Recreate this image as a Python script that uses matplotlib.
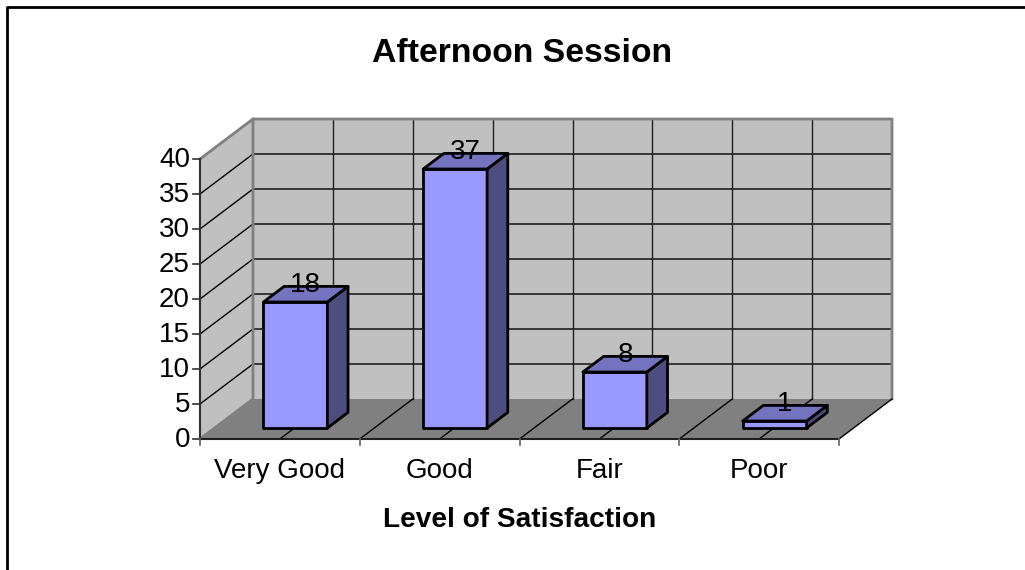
import matplotlib
matplotlib.use("Agg")
import matplotlib.pyplot as plt
from matplotlib.patches import Polygon

categories = ["Very Good", "Good", "Fair", "Poor"]
values = [18, 37, 8, 1]
y_ticks = [0, 5, 10, 15, 20, 25, 30, 35, 40]
title = "Afternoon Session"
x_title = "Level of Satisfaction"

plt.rcParams['font.family'] = ['Liberation Sans', 'DejaVu Sans']

# oblique projection of the 3d box into figure pixels
x0, y0 = 200, 439
cat_w = 159.75
y_scale = 7.0
dx, dy = 53, -40


def proj(cat, val, depth=0.0):
    return (x0 + cat * cat_w + depth * dx, y0 - val * y_scale + depth * dy)


def face(ax, pts, color, **kw):
    ax.add_patch(Polygon(pts, closed=True, facecolor=color, **kw))


fig = plt.figure(figsize=(10.25, 5.7), dpi=100)
ax = fig.add_axes([0, 0, 1, 1])
ax.set_xlim(0, 1025)
ax.set_ylim(570, 0)
ax.axis("off")

n = len(categories)
top = y_ticks[-1]

# walls and floor
face(ax, [proj(0, 0, 1), proj(n, 0, 1), proj(n, top, 1), proj(0, top, 1)], "#c0c0c0", edgecolor="none")
face(ax, [proj(0, 0), proj(0, 0, 1), proj(0, top, 1), proj(0, top)], "#c0c0c0", edgecolor="none")
face(ax, [proj(0, 0), proj(n, 0), proj(n, 0, 1), proj(0, 0, 1)], "#808080", edgecolor="none")

# gridlines
for t in y_ticks[1:-1]:
    ax.plot(*zip(proj(0, t), proj(0, t, 1), proj(n, t, 1)), color="black", lw=1, zorder=2)
for i in range(1, 2 * n):
    c = i / 2
    ax.plot(*zip(proj(c, 0, 1), proj(c, top, 1)), color="#202020", lw=1, zorder=2)
    ax.plot(*zip(proj(c, 0), proj(c, 0, 1)), color="black", lw=1, zorder=2)

# grey frame of the walls
ax.plot(*zip(proj(0, top), proj(0, top, 1), proj(n, top, 1), proj(n, 0, 1)), color="#808080", lw=2, zorder=2)
ax.plot(*zip(proj(0, 0), proj(0, 0, 1), proj(0, top, 1)), color="#808080", lw=2, zorder=2)
ax.plot(*zip(proj(n, 0), proj(n, 0, 1)), color="black", lw=1, zorder=2)

# axes lines and ticks
ax.plot(*zip(proj(0, 0), proj(0, top)), color="#303030", lw=1.5, zorder=3)
ax.plot(*zip(proj(0, 0), proj(n, 0)), color="#202020", lw=1.5, zorder=3)
for t in y_ticks:
    px, py = proj(0, t)
    ax.plot([px - 7, px], [py, py], color="#303030", lw=1.2, zorder=3)
    ax.text(px - 10, py + 1, str(t), ha="right", va="center", fontsize=20, color="black")
for i in range(n + 1):
    px, py = proj(i, 0)
    ax.plot([px, px], [py, py + 6], color="#606060", lw=1.2, zorder=3)
for i, cat in enumerate(categories):
    px, py = proj(i + 0.5, 0)
    ax.text(px, py + 32, cat, ha="center", va="center", fontsize=20, color="black")

# bars
d1, d2 = 0.275, 0.665
w1, w2 = 0.306, 0.706
edge = dict(edgecolor="black", lw=2, joinstyle="round", zorder=4)
for i, v in enumerate(values):
    l, r = i + w1, i + w2
    face(ax, [proj(l, 0, d1), proj(r, 0, d1), proj(r, v, d1), proj(l, v, d1)], "#9999ff", **edge)
    face(ax, [proj(r, 0, d1), proj(r, 0, d2), proj(r, v, d2), proj(r, v, d1)], "#4d4d80", **edge)
    face(ax, [proj(l, v, d1), proj(r, v, d1), proj(r, v, d2), proj(l, v, d2)], "#7373bf", **edge)
    px, py = proj(i + 0.5, v, (d1 + d2) / 2)
    ax.text(px + 1, py - 9, str(v), ha="center", va="center", fontsize=20, color="black", zorder=5)

ax.text(522.5, 53, title, ha="center", va="center", fontsize=24.3, fontweight="bold")
ax.text(520, 520, x_title, ha="center", va="center", fontsize=20.2, fontweight="bold")

# chart border, only top and left are inside the image
ax.plot([7, 7, 1025], [570, 7, 7], color="black", lw=2)

fig.savefig("out.png", dpi=100)
